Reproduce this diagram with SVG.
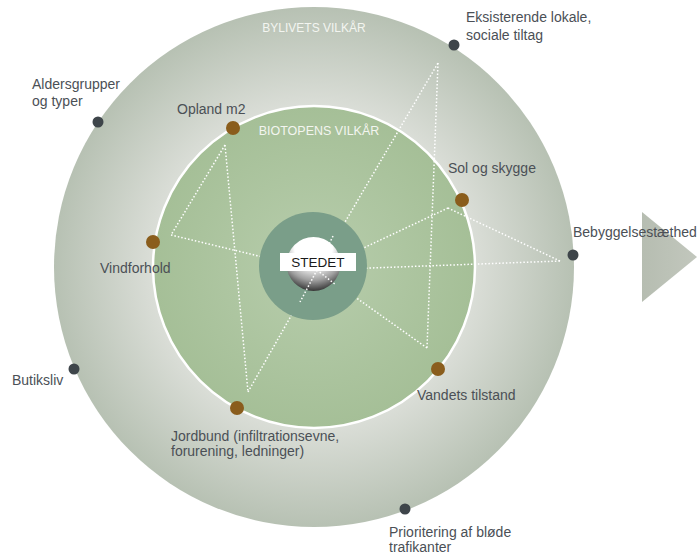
<svg xmlns="http://www.w3.org/2000/svg" width="697" height="555" viewBox="0 0 697 555">
<defs>
<radialGradient id="gOuter" cx="314" cy="267" r="260" gradientUnits="userSpaceOnUse">
<stop offset="0.6" stop-color="#dcdfd9"/>
<stop offset="1" stop-color="#b7c1b3"/>
</radialGradient>
<radialGradient id="gInner" cx="314" cy="267" r="161" gradientUnits="userSpaceOnUse">
<stop offset="0.3" stop-color="#b2c9a6"/>
<stop offset="1" stop-color="#a5bf97"/>
</radialGradient>
<radialGradient id="gSphere" cx="313.5" cy="250" r="42" fx="313.5" fy="245" gradientUnits="userSpaceOnUse">
<stop offset="0" stop-color="#ffffff"/>
<stop offset="0.45" stop-color="#ffffff"/>
<stop offset="0.75" stop-color="#a0a0a0"/>
<stop offset="1" stop-color="#2e2e2e"/>
</radialGradient>
<linearGradient id="gTri" x1="0" y1="0" x2="1" y2="0">
<stop offset="0" stop-color="#b6bdb1"/>
<stop offset="1" stop-color="#c2c7bd"/>
</linearGradient>
<style>
.lbl{font-family:"Liberation Sans",Arial,sans-serif;font-size:14px;fill:#4b5056}
.ring{font-family:"Liberation Sans",Arial,sans-serif;font-size:12px;fill:#f3f5f0}
.dot{fill:#3e454a}
.bdot{fill:#8a5d1c}
.dl{stroke:#ffffff;stroke-width:1.5;stroke-dasharray:1.5 2;fill:none}
</style>
</defs>
<rect width="697" height="555" fill="#ffffff"/>
<g id="outer-ring">
<circle cx="314" cy="267" r="260" fill="url(#gOuter)"/>
<text class="ring" x="314" y="32" text-anchor="middle">BYLIVETS VILKÅR</text>
</g>
<g id="inner-ring">
<circle cx="314" cy="267" r="161" fill="url(#gInner)" stroke="#ffffff" stroke-width="2.5"/>
<text class="ring" x="319" y="135" text-anchor="middle" style="font-size:12.5px">BIOTOPENS VILKÅR</text>
</g>
<g id="arrow">
<polygon points="642,212 642,302 697,257" fill="url(#gTri)"/>
</g>
<g id="connectors">
<line class="dl" x1="225" y1="145" x2="171" y2="235"/>
<line class="dl" x1="225" y1="145" x2="248" y2="392"/>
<line class="dl" x1="171" y1="235" x2="317" y2="270"/>
<line class="dl" x1="248" y1="392" x2="317" y2="270"/>
<line class="dl" x1="317" y1="270" x2="438" y2="63"/>
<line class="dl" x1="438" y1="63" x2="427" y2="348"/>
<line class="dl" x1="427" y1="348" x2="317" y2="270"/>
<line class="dl" x1="317" y1="270" x2="560" y2="261"/>
<line class="dl" x1="560" y1="261" x2="448" y2="208"/>
<line class="dl" x1="448" y1="208" x2="317" y2="270"/>
</g>
<g id="core">
<circle cx="313" cy="266" r="54" fill="#7a9e89"/>
<circle cx="313.5" cy="264" r="27" fill="url(#gSphere)"/>
<line class="dl" x1="300" y1="258" x2="317" y2="270"/>
<line class="dl" x1="333" y1="236" x2="317" y2="270"/>
<line class="dl" x1="317" y1="270" x2="300" y2="302"/>
<line class="dl" x1="317" y1="270" x2="336" y2="285"/>
</g>
<g id="stedet">
<rect x="280" y="253" width="76" height="18" fill="#ffffff"/>
<text x="318" y="267" text-anchor="middle" style="font-family:'Liberation Sans',Arial,sans-serif;font-size:13.5px;fill:#1a1a1a">STEDET</text>
</g>
<g id="eksisterende">
<circle class="dot" cx="454" cy="45" r="5.5"/>
<text class="lbl" x="466" y="22">Eksisterende lokale,</text>
<text class="lbl" x="466" y="40">sociale tiltag</text>
</g>
<g id="aldersgrupper">
<circle class="dot" cx="98" cy="122" r="5.5"/>
<text class="lbl" x="32" y="89">Aldersgrupper</text>
<text class="lbl" x="32" y="106">og typer</text>
</g>
<g id="bebyggelse">
<circle class="dot" cx="573" cy="255" r="5.5"/>
<text class="lbl" x="573" y="237">Bebyggelsestæthed</text>
</g>
<g id="butiksliv">
<circle class="dot" cx="74" cy="369" r="5.5"/>
<text class="lbl" x="12" y="385">Butiksliv</text>
</g>
<g id="prioritering">
<circle class="dot" cx="405" cy="509" r="5.5"/>
<text class="lbl" x="389" y="537">Prioritering af bløde</text>
<text class="lbl" x="389" y="552">trafikanter</text>
</g>
<g id="opland">
<circle class="bdot" cx="233" cy="128" r="7"/>
<text class="lbl" x="177" y="114">Opland m2</text>
</g>
<g id="vindforhold">
<circle class="bdot" cx="153" cy="242" r="7"/>
<text class="lbl" x="100" y="273">Vindforhold</text>
</g>
<g id="sol">
<circle class="bdot" cx="462" cy="200" r="7"/>
<text class="lbl" x="448" y="173">Sol og skygge</text>
</g>
<g id="vandets">
<circle class="bdot" cx="438" cy="369" r="7"/>
<text class="lbl" x="417" y="400">Vandets tilstand</text>
</g>
<g id="jordbund">
<circle class="bdot" cx="237" cy="408" r="7"/>
<text class="lbl" x="171" y="441">Jordbund (infiltrationsevne,</text>
<text class="lbl" x="171" y="456">forurening, ledninger)</text>
</g>
</svg>
